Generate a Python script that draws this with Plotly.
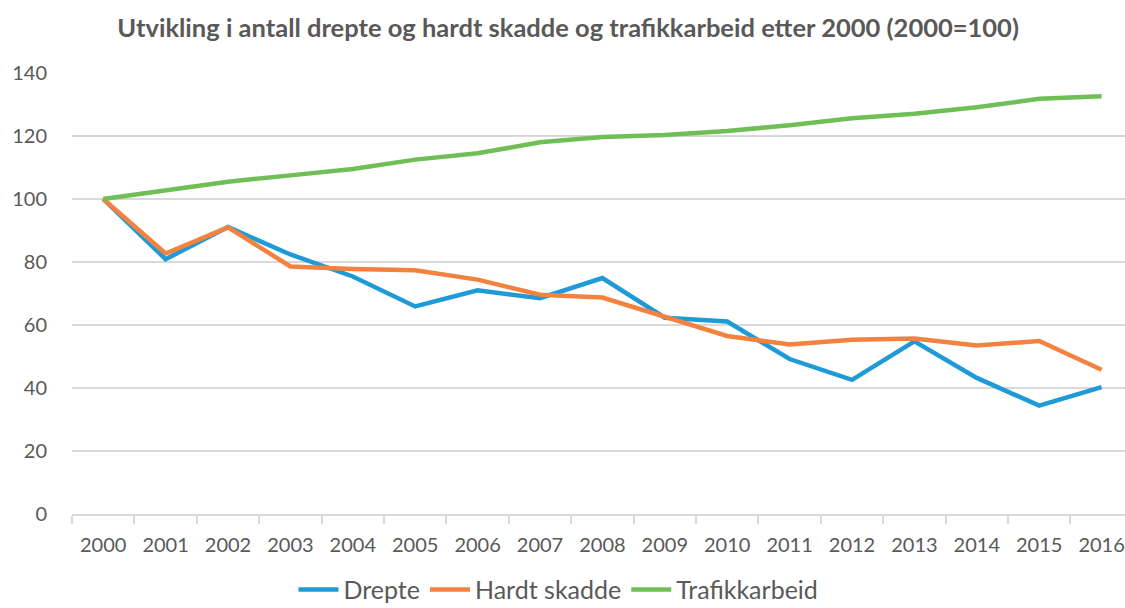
import plotly.graph_objects as go

years = [str(y) for y in range(2000, 2017)]
drepte = [100, 80.9, 91.1, 82.4, 75.4, 65.9, 71.0, 68.5, 74.9, 62.3, 61.1, 49.2, 42.6, 54.8, 43.2, 34.4, 40.3]
hardt_skadde = [100, 82.7, 91.0, 78.6, 77.8, 77.4, 74.4, 69.6, 68.7, 62.7, 56.5, 53.8, 55.3, 55.7, 53.5, 54.9, 45.8]
trafikkarbeid = [100, 102.6, 105.5, 107.5, 109.5, 112.5, 114.5, 118.0, 119.7, 120.3, 121.6, 123.4, 125.6, 127.1, 129.1, 131.8, 132.6]

series = [
    ("Drepte", drepte, "#1E9BD7"),
    ("Hardt skadde", hardt_skadde, "#F4823F"),
    ("Trafikkarbeid", trafikkarbeid, "#70BF56"),
]

fig = go.Figure()
for name, vals, col in series:
    fig.add_trace(go.Scatter(x=years, y=vals, name=name, mode="lines",
                             line=dict(color=col, width=4.5), cliponaxis=False))

font = "Lato, Carlito, Calibri, 'Open Sans', sans-serif"
fig.update_layout(
    width=1125, height=608,
    margin=dict(l=72, r=0, t=73, b=94, autoexpand=False),
    paper_bgcolor="white", plot_bgcolor="white",
    font=dict(family=font, size=20, color="#595959"),
    title=dict(text="<b>Utvikling i antall drepte og hardt skadde og trafikkarbeid etter 2000 (2000=100)</b>",
               x=0.505, xref="container", xanchor="center",
               y=1 - 28 / 608, yref="container", yanchor="middle",
               font=dict(family=font, size=25.5, color="#595959")),
    legend=dict(orientation="h", x=0.462, xanchor="center", y=-0.172, yanchor="middle",
                font=dict(size=25), itemwidth=40, traceorder="normal"),
    showlegend=True,
)
fig.update_xaxes(type="category", range=[-0.5, 16.375], showgrid=False, automargin=False,
                 showline=True, linecolor="#D9D9D9", linewidth=1.5,
                 ticks="outside", tickson="boundaries", ticklen=8, tickcolor="#D9D9D9",
                 tickwidth=1.5, ticklabelstandoff=12, zeroline=False)
fig.update_yaxes(range=[0, 140], dtick=20, showgrid=True, gridcolor="#D9D9D9", gridwidth=1.5,
                 automargin=False, zeroline=False, showline=False, ticks="", ticklabelstandoff=24)

fig.write_html("out.html", config={"displayModeBar": False},
               post_script="document.body.style.margin='0';")
